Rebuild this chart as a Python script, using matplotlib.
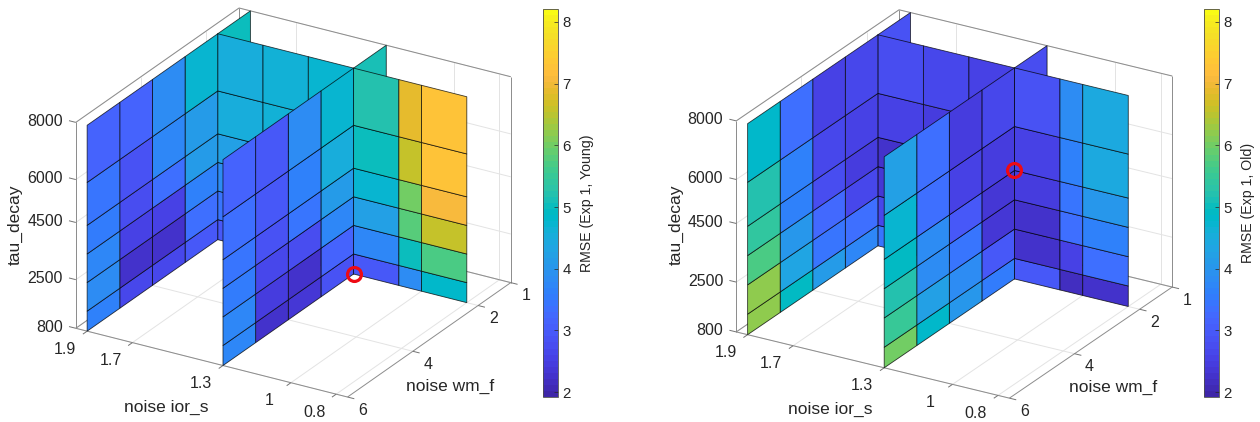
import numpy as np
import matplotlib
matplotlib.use("Agg")
import matplotlib.pyplot as plt
from matplotlib.cm import ScalarMappable
from matplotlib.colors import ListedColormap, Normalize
from mpl_toolkits.mplot3d import proj3d
from mpl_toolkits.mplot3d.art3d import Poly3DCollection

plt.rcParams['font.family'] = ['Liberation Sans', 'DejaVu Sans']

# grid edges of the slices
ior_edges = [1.9, 1.7, 1.5, 1.3, 1.1, 1.0, 0.8]
wm_edges = [6, 5, 4, 3, 2, 1]
tau_edges = [8000, 6000, 4500, 3500, 2500, 1500, 800]

ior_ticks = [1.9, 1.7, 1.3, 1, 0.8]
wm_ticks = [1, 2, 4, 6]
tau_ticks = [800, 2500, 4500, 6000, 8000]
ior_tick_labels = ['1.9', '1.7', '1.3', '1', '0.8']
wm_tick_labels = ['1', '2', '4', '6']
tau_tick_labels = ['800', '2500', '4500', '6000', '8000']
cbar_ticks = [2, 3, 4, 5, 6, 7, 8]

# rows go tau 8000 -> 800, columns wm 6 -> 1
young_ior19 = [[3.1, 3.1, 3.8, 4.7, 5.0],
               [3.4, 2.9, 3.7, 4.1, 4.7],
               [3.5, 2.8, 3.3, 4.1, 4.5],
               [3.7, 2.6, 2.6, 3.6, 4.2],
               [3.8, 2.3, 2.3, 3.3, 3.8],
               [3.6, 2.7, 2.7, 3.0, 3.4]]
young_ior13 = [[3.1, 3.0, 3.8, 4.7, 5.1],
               [3.3, 3.0, 3.6, 4.5, 4.9],
               [3.4, 2.9, 3.4, 4.1, 4.7],
               [3.5, 2.7, 2.8, 3.7, 4.2],
               [3.7, 2.5, 2.3, 3.1, 3.7],
               [3.7, 2.3, 2.4, 2.9, 3.0]]
# rows go tau 8000 -> 800, columns ior 1.9 -> 0.8
young_wm2 = [[4.5, 4.6, 4.7, 5.2, 6.9, 7.3],
             [4.5, 4.6, 4.7, 5.0, 6.6, 7.3],
             [4.2, 4.3, 4.4, 4.7, 6.0, 7.1],
             [3.8, 3.9, 4.0, 4.2, 5.8, 6.6],
             [3.4, 3.5, 3.6, 3.7, 5.0, 5.7],
             [3.0, 3.0, 3.0, 3.0, 3.8, 4.8]]

old_ior19 = [[4.8, 3.3, 2.6, 2.7, 2.9],
             [5.2, 3.6, 2.7, 2.6, 2.7],
             [5.4, 3.6, 2.8, 2.5, 2.5],
             [5.7, 4.0, 3.2, 2.7, 2.4],
             [6.2, 4.3, 3.4, 3.3, 2.7],
             [6.2, 4.9, 4.1, 3.7, 3.4]]
old_ior13 = [[4.2, 3.3, 2.5, 2.7, 2.8],
             [4.7, 3.3, 2.6, 2.5, 2.6],
             [4.9, 3.8, 3.0, 2.4, 2.5],
             [5.2, 3.8, 3.4, 2.4, 2.3],
             [5.5, 4.2, 3.8, 3.0, 2.3],
             [6.0, 4.8, 4.0, 3.5, 3.0]]
old_wm2 = [[2.8, 2.7, 2.6, 2.9, 3.8, 4.4],
           [2.6, 2.5, 2.4, 2.6, 3.6, 4.4],
           [2.3, 2.3, 2.3, 2.5, 3.4, 4.0],
           [2.4, 2.4, 2.3, 2.3, 3.3, 3.6],
           [2.7, 2.6, 2.4, 2.3, 2.6, 3.3],
           [3.4, 3.2, 3.0, 3.0, 2.2, 2.3]]

# best fit markers (ior, wm, tau)
young_best = (1.3, 2, 800)
old_best = (1.3, 2, 4500)

# matlab parula, 64 steps
parula = ListedColormap([
    [0.2422, 0.1504, 0.6603], [0.2504, 0.1650, 0.7076], [0.2578, 0.1818, 0.7511], [0.2647, 0.1978, 0.7952],
    [0.2706, 0.2147, 0.8364], [0.2751, 0.2342, 0.8710], [0.2783, 0.2559, 0.8991], [0.2803, 0.2782, 0.9221],
    [0.2813, 0.3006, 0.9414], [0.2810, 0.3228, 0.9579], [0.2795, 0.3447, 0.9717], [0.2760, 0.3667, 0.9829],
    [0.2699, 0.3892, 0.9906], [0.2602, 0.4123, 0.9952], [0.2440, 0.4358, 0.9988], [0.2206, 0.4603, 0.9973],
    [0.1963, 0.4847, 0.9892], [0.1834, 0.5074, 0.9798], [0.1786, 0.5289, 0.9682], [0.1764, 0.5499, 0.9520],
    [0.1687, 0.5703, 0.9359], [0.1540, 0.5902, 0.9218], [0.1460, 0.6091, 0.9079], [0.1380, 0.6276, 0.8973],
    [0.1248, 0.6459, 0.8883], [0.1113, 0.6635, 0.8763], [0.0952, 0.6798, 0.8598], [0.0689, 0.6948, 0.8394],
    [0.0297, 0.7082, 0.8163], [0.0036, 0.7203, 0.7917], [0.0067, 0.7312, 0.7660], [0.0433, 0.7411, 0.7394],
    [0.0964, 0.7500, 0.7120], [0.1408, 0.7584, 0.6842], [0.1717, 0.7670, 0.6554], [0.1938, 0.7758, 0.6251],
    [0.2161, 0.7843, 0.5923], [0.2470, 0.7918, 0.5567], [0.2906, 0.7973, 0.5188], [0.3406, 0.8008, 0.4789],
    [0.3909, 0.8029, 0.4354], [0.4456, 0.8024, 0.3909], [0.5044, 0.7993, 0.3480], [0.5616, 0.7942, 0.3045],
    [0.6174, 0.7876, 0.2612], [0.6720, 0.7793, 0.2227], [0.7242, 0.7698, 0.1910], [0.7738, 0.7598, 0.1646],
    [0.8203, 0.7498, 0.1535], [0.8634, 0.7406, 0.1596], [0.9035, 0.7330, 0.1774], [0.9393, 0.7288, 0.2100],
    [0.9728, 0.7298, 0.2394], [0.9956, 0.7434, 0.2371], [0.9970, 0.7659, 0.2199], [0.9952, 0.7861, 0.2028],
    [0.9892, 0.8081, 0.1885], [0.9786, 0.8299, 0.1762], [0.9676, 0.8515, 0.1660], [0.9610, 0.8726, 0.1530],
    [0.9597, 0.8949, 0.1423], [0.9628, 0.9188, 0.1252], [0.9691, 0.9434, 0.1100], [0.9769, 0.9839, 0.0805]])
norm = Normalize(1.92, 8.21)

IOR_LIM = (0.75, 1.95)
WM_LIM = (1, 6)
TAU_LIM = (800, 8000)
W, H = 1260, 422


def ior_wall(ax, ior, vals, cols, z):
    # wall of constant ior, cells run over wm and tau
    verts, faces = [], []
    for r in range(len(tau_edges) - 1):
        for c in cols:
            y0, y1 = wm_edges[c], wm_edges[c + 1]
            z0, z1 = tau_edges[r], tau_edges[r + 1]
            verts.append([(ior, y0, z0), (ior, y1, z0), (ior, y1, z1), (ior, y0, z1)])
            faces.append(parula(norm(vals[r][c])))
    add_cells(ax, verts, faces, z)


def wm_wall(ax, wm, vals, z):
    verts, faces = [], []
    for r in range(len(tau_edges) - 1):
        for c in range(len(ior_edges) - 1):
            x0, x1 = ior_edges[c], ior_edges[c + 1]
            z0, z1 = tau_edges[r], tau_edges[r + 1]
            verts.append([(x0, wm, z0), (x1, wm, z0), (x1, wm, z1), (x0, wm, z1)])
            faces.append(parula(norm(vals[r][c])))
    add_cells(ax, verts, faces, z)


def add_cells(ax, verts, faces, z):
    coll = Poly3DCollection(verts, facecolors=faces, edgecolors=(0, 0, 0, 0.75), linewidths=0.6, zorder=z)
    ax.add_collection3d(coll)


def line(ax, xs, ys, zs, color, lw=0.7):
    ax.plot(xs, ys, zs, color=color, lw=lw, zorder=1, solid_capstyle='butt')


def draw_box(ax):
    x0, x1 = IOR_LIM
    y0, y1 = WM_LIM
    z0, z1 = TAU_LIM
    # grid on floor and the two back walls
    for t in ior_ticks:
        line(ax, [t, t], [y0, y1], [z0, z0], '0.89')
        line(ax, [t, t], [y0, y0], [z0, z1], '0.89')
    for t in wm_ticks:
        line(ax, [x0, x1], [t, t], [z0, z0], '0.89')
        line(ax, [x1, x1], [t, t], [z0, z1], '0.89')
    for t in tau_ticks:
        line(ax, [x0, x1], [y0, y0], [t, t], '0.89')
        line(ax, [x1, x1], [y0, y1], [t, t], '0.89')
    # outline without the three edges nearest the viewer
    for xs, ys, zs in [([x1, x0], [y1, y1], [z0, z0]), ([x0, x0], [y1, y0], [z0, z0]),
                       ([x1, x1], [y1, y1], [z0, z1]), ([x0, x0], [y0, y0], [z0, z1]),
                       ([x1, x1], [y0, y1], [z1, z1]), ([x1, x0], [y0, y0], [z1, z1]),
                       ([x1, x1], [y0, y0], [z0, z1]), ([x1, x1], [y0, y1], [z0, z0]),
                       ([x1, x0], [y0, y0], [z0, z0])]:
        line(ax, xs, ys, zs, '0.55', 0.7)
    # outward ticks
    for t in ior_ticks:
        line(ax, [t, t], [y1, y1 + 0.13], [z0, z0], '0.45')
    for t in wm_ticks:
        line(ax, [x0, x0 - 0.03], [t, t], [z0, z0], '0.45')
    for t in tau_ticks:
        line(ax, [x1, x1 + 0.03], [y1, y1], [t, t], '0.45')


def label3d(ax, x, y, z, txt, dx, dy, ha='center'):
    px, py, _ = proj3d.proj_transform(x, y, z, ax.get_proj())
    ax.annotate(txt, xy=(px, py), xytext=(dx, dy), textcoords='offset pixels', ha=ha, va='center',
                fontsize=11.5, color='0.15', annotation_clip=False)


def panel(fig, rect, elev, azim, aspect, ior19, ior13, wm2, best, cb_left, cb_text, labels):
    ax = fig.add_axes([rect[0] / W, rect[1] / H, rect[2] / W, rect[2] / H],
                      projection='3d', proj_type='ortho', computed_zorder=False)
    ax.set_xlim(*IOR_LIM)
    ax.set_ylim(*WM_LIM)
    ax.set_zlim(*TAU_LIM)
    ax.set_box_aspect(aspect)
    ax.view_init(elev=elev, azim=azim)
    ax.set_axis_off()
    ax.patch.set_visible(False)

    draw_box(ax)
    # back to front
    ior_wall(ax, 1.9, ior19, [4], 2)
    ior_wall(ax, 1.3, ior13, [4], 2)
    wm_wall(ax, 2, wm2, 3)
    ior_wall(ax, 1.9, ior19, [0, 1, 2, 3], 4)
    ior_wall(ax, 1.3, ior13, [0, 1, 2, 3], 4)
    ax.plot([best[0]], [best[1]], [best[2]], 'o', mfc='none', mec='#ee0a14', ms=10, mew=2.3, zorder=10)

    for t, s in zip(ior_ticks, ior_tick_labels):
        label3d(ax, t, WM_LIM[1], TAU_LIM[0], s, -22, -18)
    for t, s in zip(wm_ticks, wm_tick_labels):
        label3d(ax, IOR_LIM[0], t, TAU_LIM[0], s, 15, -13)
    for t, s in zip(tau_ticks, tau_tick_labels):
        label3d(ax, IOR_LIM[1], WM_LIM[1], t, s, -13, 1, ha='right')

    fig.text(labels[0][0] / W, 1 - labels[0][1] / H, 'tau_decay', rotation=90, ha='center', va='center',
             fontsize=12.5, color='0.15')
    fig.text(labels[1][0] / W, 1 - labels[1][1] / H, 'noise ior_s', ha='center', va='center',
             fontsize=12.5, color='0.15')
    fig.text(labels[2][0] / W, 1 - labels[2][1] / H, 'noise wm_f', ha='center', va='center',
             fontsize=12.5, color='0.15')

    cax = fig.add_axes([cb_left / W, 1 - 397 / H, 15 / W, 388 / H])
    cb = fig.colorbar(ScalarMappable(norm=norm, cmap=parula), cax=cax, ticks=cbar_ticks)
    cb.ax.tick_params(direction='in', length=3, width=0.5, labelsize=10.8, pad=3, colors='0.15')
    cb.outline.set_linewidth(0.6)
    cb.outline.set_edgecolor('0.3')
    fig.text((cb_left + 44) / W, 1 - 203 / H, cb_text, rotation=90, ha='center', va='center',
             fontsize=10.2, color='0.15')


fig = plt.figure(figsize=(W / 100, H / 100), dpi=100)
panel(fig, (42.8, -31, 487.8), 24.9, 121, (317, 317, 227), young_ior19, young_ior13, young_wm2, young_best,
      543, 'RMSE (Exp 1, Young)', [(15, 225), (166.5, 407), (450, 386)])
panel(fig, (702.2, -34, 490.8), 24, 120.8, (318, 318, 231), old_ior19, old_ior13, old_wm2, old_best,
      1204, 'RMSE (Exp 1, Old)', [(676, 225), (830, 409), (1112.7, 387)])
fig.savefig('out.png', dpi=100)
